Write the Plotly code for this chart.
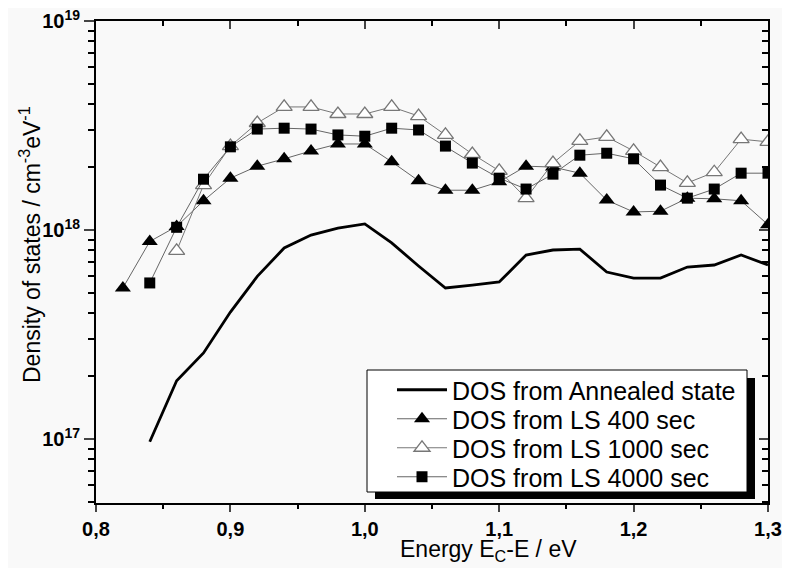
import plotly.graph_objects as go
import numpy as np

energy = [0.82, 0.84, 0.86, 0.88, 0.90, 0.92, 0.94, 0.96, 0.98, 1.00, 1.02, 1.04, 1.06,
          1.08, 1.10, 1.12, 1.14, 1.16, 1.18, 1.20, 1.22, 1.24, 1.26, 1.28, 1.30]

annealed_x = energy[1:]
annealed = [9.7e16, 1.90e17, 2.58e17, 4.05e17, 6.0e17, 8.2e17, 9.46e17, 1.02e18, 1.07e18,
            8.67e17, 6.73e17, 5.28e17, 5.45e17, 5.64e17, 7.59e17, 8.02e17, 8.1e17,
            6.29e17, 5.89e17, 5.89e17, 6.65e17, 6.8e17, 7.59e17, 6.8e17]

ls400_x = energy
ls400 = [5.28e17, 8.81e17, 1.04e18, 1.38e18, 1.77e18, 2.02e18, 2.19e18, 2.39e18, 2.58e18,
         2.58e18, 2.12e18, 1.72e18, 1.55e18, 1.55e18, 1.70e18, 2.02e18, 2.0e18, 1.87e18,
         1.39e18, 1.22e18, 1.23e18, 1.42e18, 1.41e18, 1.38e18, 1.06e18]

ls1000_x = energy[2:]
ls1000 = [7.94e17, 1.64e18, 2.52e18, 3.25e18, 3.88e18, 3.88e18, 3.59e18, 3.59e18, 3.88e18,
          3.51e18, 2.85e18, 2.31e18, 1.92e18, 1.42e18, 2.09e18, 2.67e18, 2.79e18, 2.39e18,
          2.0e18, 1.68e18, 1.89e18, 2.72e18, 2.64e18]

ls4000_x = energy[1:]
ls4000 = [5.58e17, 1.03e18, 1.75e18, 2.50e18, 3.04e18, 3.07e18, 3.04e18, 2.85e18, 2.81e18,
          3.07e18, 3.01e18, 2.52e18, 2.09e18, 1.77e18, 1.57e18, 1.85e18, 2.28e18, 2.33e18,
          2.19e18, 1.64e18, 1.42e18, 1.57e18, 1.87e18, 1.87e18]

series_names = ["DOS from Annealed state", "DOS from LS 400 sec",
                "DOS from LS 1000 sec", "DOS from LS 4000 sec"]

x_ticks = [0.8, 0.9, 1.0, 1.1, 1.2, 1.3]
x_ticktext = ["0,8", "0,9", "1,0", "1,1", "1,2", "1,3"]
y_ticks = [1e17, 1e18, 1e19]
y_ticktext = ["10<sup>17</sup>", "10<sup>18</sup>", "10<sup>19</sup>"]
y_minor = [k * 10.0 ** d for d in (16, 17, 18) for k in range(2, 10) if 5e16 <= k * 10.0 ** d <= 1e19]
x_minor = [0.85, 0.95, 1.05, 1.15, 1.25]

FONT = "Liberation Sans, Arial, sans-serif"
X_RANGE = [0.8, 1.3]
Y_RANGE = [np.log10(4.94e16), 19]

# page body has an 8px margin: plot area aimed at x 96..768, y 21..503 in the window
OFF = 8
L, T, PW, PH = 96 - OFF, 21 - OFF, 672, 482
W, H = 790, 568


def px(xp):
    return (xp - OFF - L) / PW


def py(yp):
    return (T + PH - (yp - OFF)) / PH


legend_ids = ["legend", "legend2", "legend3", "legend4"]
legend_rows = [390, 419, 448, 477]

fig = go.Figure()
fig.add_trace(go.Scatter(x=annealed_x, y=annealed, mode="lines", name=series_names[0],
                         legend=legend_ids[0],
                         line=dict(color="black", width=2.8)))
fig.add_trace(go.Scatter(x=ls400_x, y=ls400, mode="lines+markers", name=series_names[1],
                         legend=legend_ids[1],
                         line=dict(color="#666666", width=1),
                         marker=dict(symbol="triangle-up", size=14, color="black")))
fig.add_trace(go.Scatter(x=ls1000_x, y=ls1000, mode="lines+markers", name=series_names[2],
                         legend=legend_ids[2],
                         line=dict(color="#777777", width=1),
                         marker=dict(symbol="triangle-up", size=14, color="white",
                                     line=dict(color="#777777", width=1.3))))
fig.add_trace(go.Scatter(x=ls4000_x, y=ls4000, mode="lines+markers", name=series_names[3],
                         legend=legend_ids[3],
                         line=dict(color="#666666", width=1),
                         marker=dict(symbol="square", size=11, color="black")))

legends = {}
for lid, row in zip(legend_ids, legend_rows):
    legends[lid] = dict(x=px(392), y=py(row), xanchor="left", yanchor="middle",
                        bgcolor="rgba(0,0,0,0)", borderwidth=0,
                        font=dict(size=25, family=FONT), itemwidth=50)

fig.update_layout(
    width=W, height=H,
    margin=dict(l=L, r=W - L - PW, t=T, b=H - T - PH, autoexpand=False),
    paper_bgcolor="#f9f9f9", plot_bgcolor="#f9f9f9",
    font=dict(family=FONT, color="black"),
    xaxis=dict(range=X_RANGE, tickvals=x_ticks, ticktext=x_ticktext,
               ticks="outside", ticklen=7, tickwidth=2, showline=True, linewidth=2,
               linecolor="black", showgrid=False, zeroline=False, ticklabeloverflow="allow",
               automargin=False,
               tickfont=dict(size=20, family=FONT, weight="bold"),
               minor=dict(tickvals=x_minor, ticks="outside", ticklen=4, tickwidth=2,
                          tickcolor="black", showgrid=False)),
    yaxis=dict(type="log", range=Y_RANGE, tickvals=y_ticks, ticktext=y_ticktext,
               ticks="outside", ticklen=10, tickwidth=2, showline=True, linewidth=2,
               linecolor="black", showgrid=False, zeroline=False, ticklabeloverflow="allow",
               automargin=False,
               tickfont=dict(size=20, family=FONT, weight="bold"),
               minor=dict(tickvals=y_minor, ticks="outside", ticklen=6, tickwidth=1.5,
                          tickcolor="black", showgrid=False)),
    xaxis2=dict(overlaying="x", side="top", range=X_RANGE, tickvals=x_ticks,
                showticklabels=False, ticks="inside", ticklen=8, tickwidth=2,
                showline=True, linewidth=2, linecolor="black", showgrid=False,
                zeroline=False, automargin=False,
                minor=dict(tickvals=x_minor, ticks="inside", ticklen=5, tickwidth=2,
                           tickcolor="black", showgrid=False)),
    yaxis2=dict(overlaying="y", side="right", type="log", range=Y_RANGE, tickvals=y_ticks,
                showticklabels=False, ticks="inside", ticklen=9, tickwidth=2,
                showline=True, linewidth=2, linecolor="black", showgrid=False,
                zeroline=False, automargin=False,
                minor=dict(tickvals=y_minor, ticks="inside", ticklen=6, tickwidth=1.5,
                           tickcolor="black", showgrid=False)),
    showlegend=True,
    **legends,
)

# invisible trace to activate the mirrored (top / right) axes
fig.add_trace(go.Scatter(x=[X_RANGE[0]], y=[1e18], xaxis="x2", yaxis="y2", mode="markers",
                         marker=dict(opacity=0), showlegend=False, hoverinfo="skip"))

# legend drop shadow and box
fig.add_shape(type="rect", xref="paper", yref="paper",
              x0=px(375), x1=px(755), y0=py(499), y1=py(378),
              fillcolor="black", line=dict(width=0), layer="above")
fig.add_shape(type="rect", xref="paper", yref="paper",
              x0=px(367), x1=px(747), y0=py(492), y1=py(370),
              fillcolor="white", line=dict(color="black", width=1), layer="above")

fig.add_annotation(text="Energy E<sub>C</sub>-E / eV", xref="paper", yref="paper",
                   x=px(488), y=py(550), xanchor="center", yanchor="middle",
                   showarrow=False, font=dict(size=23, family=FONT))
fig.add_annotation(text="Density of states / cm<sup>-3</sup>eV<sup>-1</sup>",
                   xref="paper", yref="paper", textangle=-90,
                   x=px(30), y=py(245), xanchor="center", yanchor="middle",
                   showarrow=False, font=dict(size=23, family=FONT))

fig.write_html("out.html")
